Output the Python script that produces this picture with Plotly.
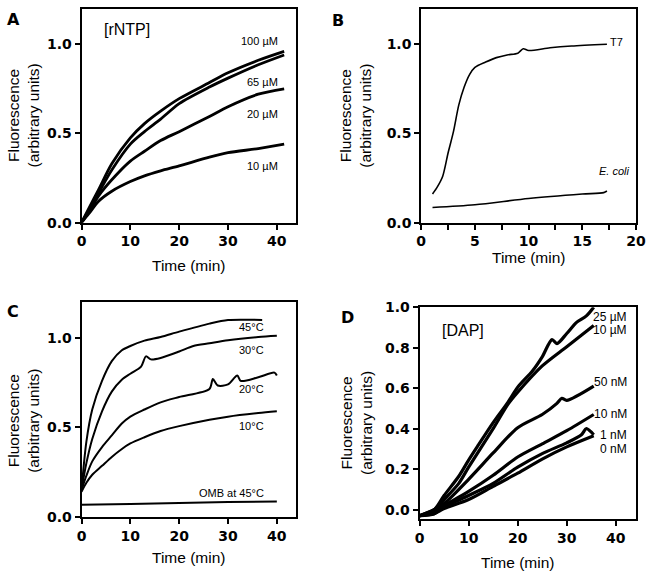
import plotly.graph_objects as go

W, H = 655, 579

# ---------------- Panel A: [rNTP] ----------------
a_t = [0, 1.5, 3.5, 6.2, 10, 12.9, 16.2, 20, 26.2, 30, 36.2, 41.5]
a_100uM = [0, 0.08, 0.185, 0.33, 0.475, 0.555, 0.625, 0.695, 0.785, 0.84, 0.91, 0.96]
a_65uM = [0, 0.07, 0.167, 0.295, 0.44, 0.51, 0.58, 0.667, 0.76, 0.81, 0.885, 0.94]
a_20uM = [0, 0.06, 0.15, 0.24, 0.345, 0.40, 0.46, 0.51, 0.595, 0.65, 0.72, 0.75]
a_10uM = [0, 0.05, 0.12, 0.176, 0.23, 0.262, 0.29, 0.318, 0.367, 0.392, 0.415, 0.44]
a_labels = ["100 µM", "65 µM", "20 µM", "10 µM"]
a_label_y = [1.018, 0.789, 0.609, 0.32]

# ---------------- Panel B: T7 vs E. coli ----------------
b_t7_t = [1.05, 1.5, 2, 2.5, 3, 3.5, 4, 4.5, 5, 6, 7, 8, 9, 9.5, 10, 12, 14, 17.3]
b_t7 = [0.16, 0.20, 0.26, 0.39, 0.51, 0.66, 0.76, 0.83, 0.87, 0.90, 0.925, 0.94, 0.95, 0.975, 0.965, 0.98, 0.99, 1.0]
b_ec_t = [1.05, 5, 10, 15, 17, 17.3]
b_ec = [0.085, 0.10, 0.135, 0.16, 0.168, 0.177]

# ---------------- Panel C: temperature ----------------
c45_t = [0, 1, 2.2, 4.2, 6.2, 8.2, 10, 12.9, 16.2, 20, 26.2, 30, 37]
c45 = [0.15, 0.42, 0.60, 0.76, 0.87, 0.93, 0.955, 0.985, 1.005, 1.035, 1.08, 1.10, 1.10]
c30_t = [0, 1, 2.2, 4.2, 6.2, 8.2, 10, 12.2, 13.2, 14.2, 16.2, 20, 22.9, 26.2, 30, 36.2, 40]
c30 = [0.15, 0.30, 0.435, 0.59, 0.70, 0.765, 0.80, 0.84, 0.897, 0.88, 0.888, 0.924, 0.955, 0.97, 0.987, 1.005, 1.012]
c20_t = [0, 1, 2.2, 4.2, 6.2, 8.2, 10, 12.9, 16.2, 20, 26.2, 26.9, 27.9, 30, 31.9, 32.6, 36.2, 39.5, 40]
c20 = [0.15, 0.23, 0.31, 0.39, 0.455, 0.52, 0.56, 0.60, 0.64, 0.67, 0.715, 0.77, 0.734, 0.74, 0.79, 0.76, 0.78, 0.806, 0.79]
c10_t = [0, 1, 2.2, 4.2, 6.2, 8.2, 10, 12.9, 16.2, 20, 26.2, 30, 36.2, 40]
c10 = [0.14, 0.19, 0.235, 0.285, 0.335, 0.378, 0.41, 0.445, 0.48, 0.507, 0.543, 0.56, 0.58, 0.59]
comb_t = [0, 10, 20, 30, 40]
comb = [0.068, 0.072, 0.078, 0.083, 0.086]
c_labels = ["45°C", "30°C", "20°C", "10°C", "OMB at 45°C"]
c_label_y = [1.063, 0.933, 0.714, 0.507, 0.132]

# ---------------- Panel D: [DAP] ----------------
d25u_t = [0, 3, 5, 8, 10, 12, 15, 18, 20, 23, 25, 27, 28, 30, 32, 34, 35.5]
d25u = [-0.03, 0.0, 0.07, 0.165, 0.245, 0.32, 0.43, 0.53, 0.605, 0.685, 0.755, 0.84, 0.82, 0.87, 0.925, 0.957, 1.0]
d10u_t = [0, 3, 5, 8, 10, 15, 18, 20, 25, 30, 35.5]
d10u = [-0.03, 0.0, 0.05, 0.13, 0.21, 0.40, 0.52, 0.58, 0.71, 0.805, 0.91]
d50n_t = [0, 3, 5, 10, 15, 20, 25, 28, 29, 30, 35.5]
d50n = [-0.03, 0.0, 0.03, 0.15, 0.28, 0.405, 0.47, 0.525, 0.55, 0.54, 0.61]
d10n_t = [0, 3, 5, 10, 15, 20, 25, 30, 35.5]
d10n = [-0.03, -0.01, 0.02, 0.09, 0.17, 0.26, 0.325, 0.39, 0.47]
d1n_t = [0, 3, 5, 10, 15, 20, 25, 30, 33, 34, 35.5]
d1n = [-0.03, -0.02, 0.013, 0.07, 0.13, 0.21, 0.277, 0.33, 0.37, 0.40, 0.37]
d0n_t = [0, 3, 5, 10, 15, 20, 25, 30, 35.5]
d0n = [-0.03, -0.02, 0.005, 0.05, 0.115, 0.18, 0.25, 0.31, 0.365]
d_labels = ["25 µM", "10 µM", "50 nM", "10 nM", "1 nM", "0 nM"]
d_label_y = [0.952, 0.885, 0.629, 0.470, 0.370, 0.298]

fig = go.Figure()

def line(x, y, xa, ya, w):
    fig.add_trace(go.Scatter(x=x, y=y, mode="lines", xaxis=xa, yaxis=ya,
                             line=dict(color="black", width=w, shape="spline", smoothing=0.8),
                             showlegend=False, hoverinfo="skip"))

for ys in [a_100uM, a_65uM, a_20uM, a_10uM]:
    line(a_t, ys, "x", "y", 2.8)
line(b_t7_t, b_t7, "x2", "y2", 1.6)
line(b_ec_t, b_ec, "x2", "y2", 1.6)
for xs, ys in [(c45_t, c45), (c30_t, c30), (c20_t, c20), (c10_t, c10), (comb_t, comb)]:
    line(xs, ys, "x3", "y3", 2.0)
for xs, ys in [(d25u_t, d25u), (d10u_t, d10u), (d50n_t, d50n), (d10n_t, d10n), (d1n_t, d1n), (d0n_t, d0n)]:
    line(xs, ys, "x4", "y4", 3.2)

tickfont = dict(family="DejaVu Sans", size=14, color="black", weight="bold")
common = dict(showline=True, linecolor="black", linewidth=2, mirror=True,
              ticks="outside", ticklen=5, tickwidth=2, tickcolor="black",
              showgrid=False, zeroline=False, tickfont=tickfont, fixedrange=True,
              ticklabeloverflow="allow")

def dom(px0, px1):
    return [px0 / W, px1 / W]

def ydom(top, bottom):
    return [1 - bottom / H, 1 - top / H]

fig.update_layout(
    width=W, height=H, margin=dict(l=0, r=0, t=0, b=0),
    paper_bgcolor="white", plot_bgcolor="white", showlegend=False,
    xaxis=dict(domain=dom(78.3, 297.7), range=[0, 43.9], tickvals=[0, 10, 20, 30, 40], anchor="y", **common),
    yaxis=dict(domain=ydom(0.6, 220.7), range=[0, 1.2], tickvals=[0, 0.5, 1.0], ticktext=["0.0", "0.5", "1.0"], anchor="x", **common),
    xaxis2=dict(domain=dom(426, 645.7), range=[0, 20], tickvals=[0, 5, 10, 15, 20], anchor="y2",
                minor=dict(tickvals=[2.5, 7.5, 12.5, 17.5], ticks="outside", ticklen=5, tickwidth=2, tickcolor="black"),
                **common),
    yaxis2=dict(domain=ydom(0.6, 220.7), range=[0, 1.2], tickvals=[0, 0.5, 1.0], ticktext=["0.0", "0.5", "1.0"], anchor="x2", **common),
    xaxis3=dict(domain=dom(78.3, 297.7), range=[0, 43.9], tickvals=[0, 10, 20, 30, 40], anchor="y3", **common),
    yaxis3=dict(domain=ydom(302.5, 523.3), range=[0, 1.2], tickvals=[0, 0.5, 1.0], ticktext=["0.0", "0.5", "1.0"], anchor="x3", **common),
    xaxis4=dict(domain=dom(424.3, 645.7), range=[0, 44.1], tickvals=[0, 10, 20, 30, 40], anchor="y4", **common),
    yaxis4=dict(domain=ydom(307.7, 525.7), range=[-0.047, 1.0], tickvals=[0, 0.2, 0.4, 0.6, 0.8, 1.0],
                ticktext=["0.0", "0.2", "0.4", "0.6", "0.8", "1.0"], anchor="x4", **common),
)

ann = []
lab = dict(family="Liberation Sans", size=11, color="black")
for t, y in zip(a_labels, a_label_y):
    ann.append(dict(text=t, x=40.7, y=y, xref="x", yref="y", xanchor="right", yanchor="middle", showarrow=False, font=lab))
ann.append(dict(text="[rNTP]", x=9.3, y=1.083, xref="x", yref="y", xanchor="center", yanchor="middle", showarrow=False,
                font=dict(family="Liberation Sans", size=16, color="black")))
ann.append(dict(text="T7", x=19.0, y=1.012, xref="x2", yref="y2", xanchor="right", yanchor="middle", showarrow=False, font=lab))
ann.append(dict(text="<i>E. coli</i>", x=19.6, y=0.287, xref="x2", yref="y2", xanchor="right", yanchor="middle", showarrow=False, font=lab))
for t, y in zip(c_labels, c_label_y):
    ann.append(dict(text=t, x=37.7, y=y, xref="x3", yref="y3", xanchor="right", yanchor="middle", showarrow=False, font=lab))
labd = dict(family="Liberation Sans", size=12, color="black")
for t, y in zip(d_labels, d_label_y):
    ann.append(dict(text=t, x=42.6, y=y, xref="x4", yref="y4", xanchor="right", yanchor="middle", showarrow=False, font=labd))
ann.append(dict(text="[DAP]", x=8.9, y=0.885, xref="x4", yref="y4", xanchor="center", yanchor="middle", showarrow=False,
                font=dict(family="Liberation Sans", size=16, color="black")))

titlefont = dict(family="Liberation Sans", size=15.5, color="black")
def paper(px, py):
    return px / W, 1 - py / H

for (px, py) in [(19, 111), (359, 111), (19, 425), (359, 427)]:
    x, y = paper(px, py)
    ann.append(dict(text="Fluorescence<br>(arbitrary units)", x=x, y=y, xref="paper", yref="paper",
                    xanchor="center", yanchor="middle", textangle=-90, showarrow=False, font=titlefont))
for (px, py) in [(188, 265), (536, 257), (188, 565), (525, 570)]:
    x, y = paper(px, py)
    ann.append(dict(text="Time (min)", x=x, y=y, xref="paper", yref="paper",
                    xanchor="center", yanchor="middle", showarrow=False, font=titlefont))

letterfont = dict(family="DejaVu Sans", size=16, color="black", weight="bold")
for t, (px, py) in zip(["A", "B", "C", "D"], [(9, 12), (341, 13), (8, 312), (351, 318)]):
    x, y = paper(px, py)
    ann.append(dict(text=t, x=x, y=y, xref="paper", yref="paper", xanchor="center", yanchor="middle",
                    showarrow=False, font=letterfont))

fig.update_layout(annotations=ann)
fig.write_html("out.html", config={"displayModeBar": False},
               post_script="document.body.style.margin='0px';document.body.style.overflow='hidden';")
